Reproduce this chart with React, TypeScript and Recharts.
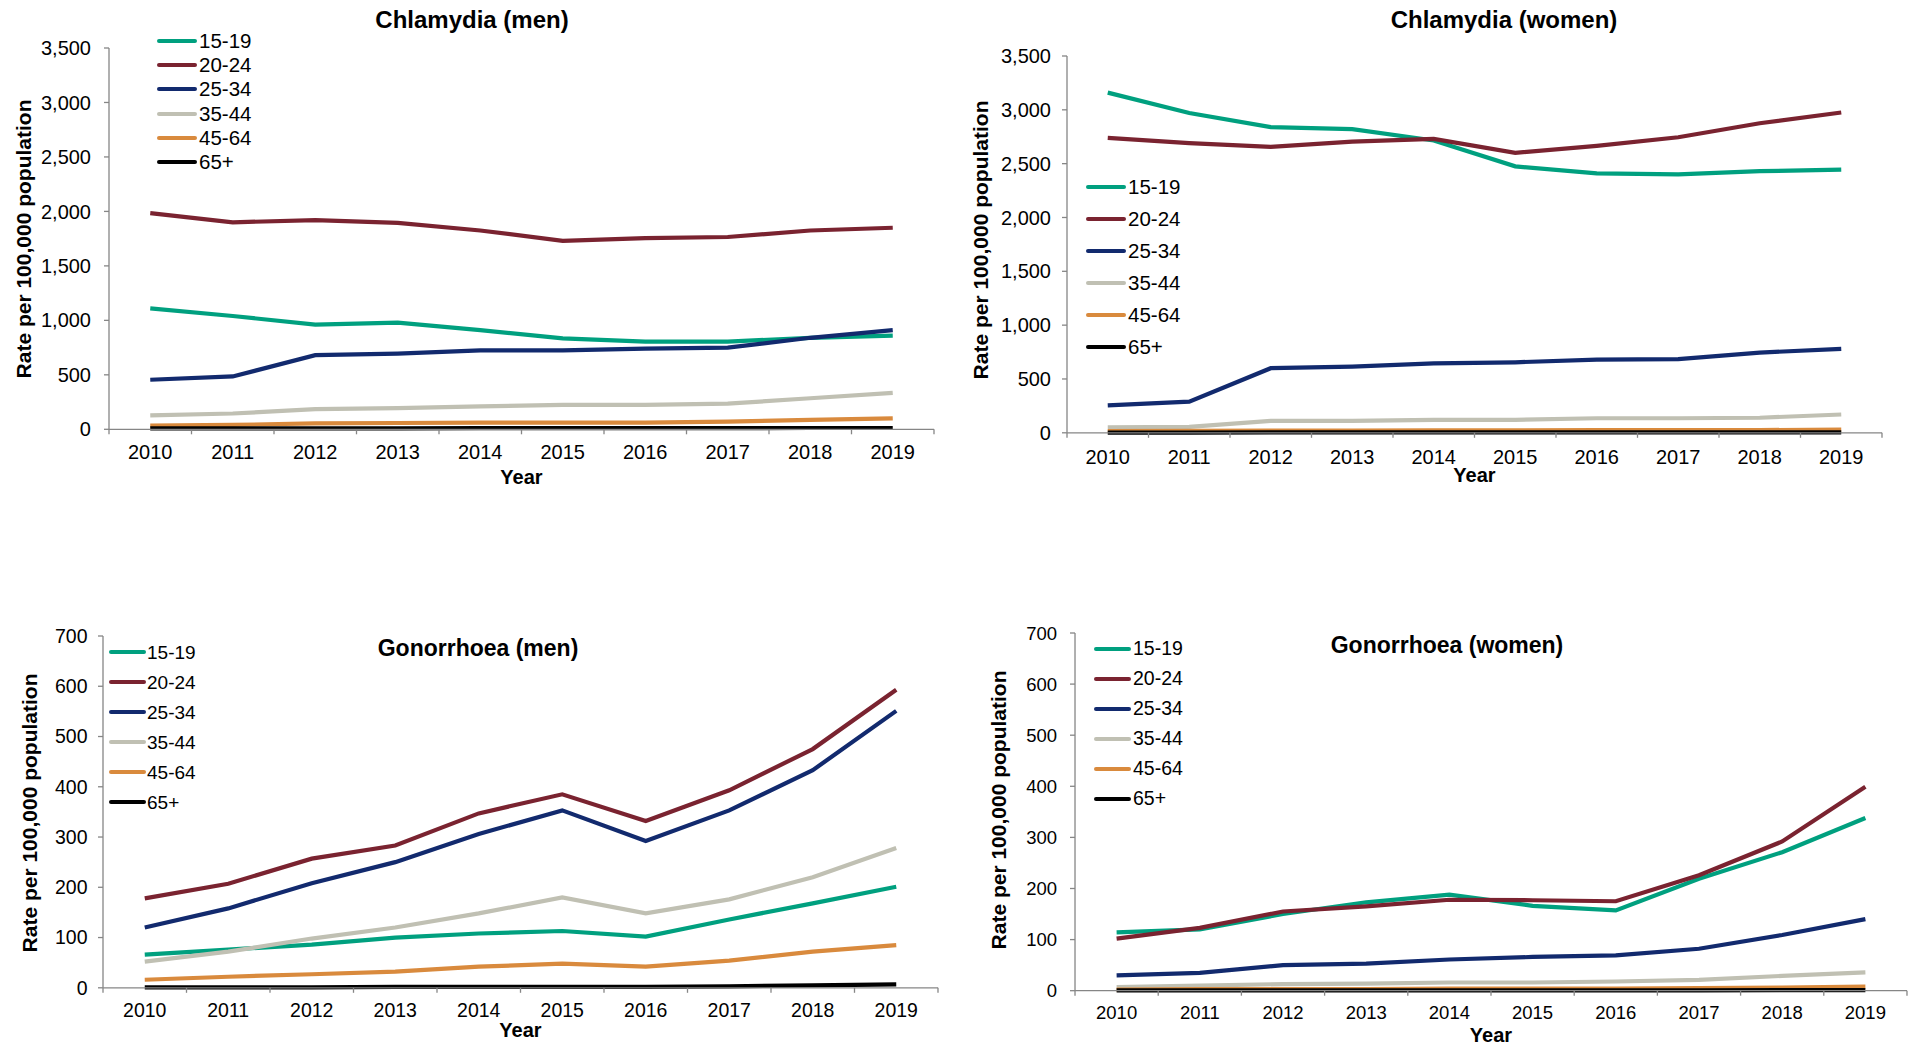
import React from 'react';
import { LineChart, Line, XAxis, YAxis } from 'recharts';

// ---------- categories / labels ----------
const years = [2010, 2011, 2012, 2013, 2014, 2015, 2016, 2017, 2018, 2019];
const ageGroups = ['15-19', '20-24', '25-34', '35-44', '45-64', '65+'];
const seriesColors = ['#00A07F', '#7A2330', '#122A6E', '#C0C0B3', '#D98A3D', '#000000'];

const chlamydiaTicks = [0, 500, 1000, 1500, 2000, 2500, 3000, 3500];
const gonorrhoeaTicks = [0, 100, 200, 300, 400, 500, 600, 700];

// ---------- Chlamydia (men) ----------
const chlMen1519 = [1110, 1040, 960, 980, 910, 835, 805, 805, 840, 860];
const chlMen2024 = [1985, 1900, 1920, 1895, 1825, 1730, 1755, 1765, 1825, 1850];
const chlMen2534 = [455, 485, 680, 695, 725, 725, 740, 750, 840, 910];
const chlMen3544 = [128, 145, 185, 195, 210, 225, 225, 235, 285, 335];
const chlMen4564 = [35, 40, 55, 58, 62, 62, 62, 70, 86, 100];
const chlMen65 = [8, 8, 9, 9, 10, 10, 10, 10, 12, 12];

// ---------- Chlamydia (women) ----------
const chlWomen1519 = [3160, 2970, 2840, 2820, 2715, 2475, 2410, 2400, 2430, 2445];
const chlWomen2024 = [2740, 2690, 2655, 2705, 2730, 2600, 2665, 2745, 2875, 2975];
const chlWomen2534 = [255, 290, 600, 615, 645, 655, 680, 685, 745, 780];
const chlWomen3544 = [50, 55, 110, 110, 120, 120, 135, 135, 140, 170];
const chlWomen4564 = [15, 17, 20, 20, 22, 22, 24, 24, 25, 30];
const chlWomen65 = [2, 2, 3, 3, 3, 3, 3, 3, 4, 4];

// ---------- Gonorrhoea (men) ----------
const gonMen1519 = [66, 76, 86, 100, 108, 113, 102, 136, 168, 201];
const gonMen2024 = [178, 207, 257, 283, 347, 385, 332, 393, 475, 593];
const gonMen2534 = [120, 158, 208, 250, 306, 353, 292, 353, 433, 551];
const gonMen3544 = [52, 72, 98, 120, 148, 180, 148, 176, 220, 278];
const gonMen4564 = [16, 22, 27, 32, 42, 48, 42, 54, 72, 85];
const gonMen65 = [1, 1, 1, 2, 2, 2, 2, 3, 5, 7];

// ---------- Gonorrhoea (women) ----------
const gonWomen1519 = [114, 120, 150, 173, 188, 166, 157, 219, 271, 338];
const gonWomen2024 = [102, 123, 155, 165, 178, 177, 175, 226, 292, 399];
const gonWomen2534 = [30, 35, 50, 53, 61, 66, 69, 82, 109, 140];
const gonWomen3544 = [7, 10, 13, 14, 16, 16, 18, 21, 29, 36];
const gonWomen4564 = [2, 3, 3, 3, 4, 4, 4, 5, 6, 8];
const gonWomen65 = [0.5, 0.5, 0.5, 0.5, 0.5, 0.5, 0.5, 0.5, 1, 1];

const FONT = '"Liberation Sans", Arial, Helvetica, sans-serif';
const AXIS_COLOR = '#868686';

const buildRows = (series: number[][]) =>
  years.map((yr, i) => {
    const row: any = { year: yr };
    series.forEach((s, k) => {
      row['s' + k] = s[i];
    });
    return row;
  });

const boundaryTicks = [...years.map((y) => y - 0.5), years[years.length - 1] + 0.5];

type Geo = { l: number; r: number; t: number; b: number };
type LegendGeo = { x1: number; x2: number; tx: number; y0: number; dy: number; fs: number };

type PanelProps = {
  title: string;
  titleX: number;
  titleY: number;
  titleFs: number;
  series: number[][];
  yTicks: number[];
  geo: Geo;
  tickFs: number;
  xLabelOffset: number;
  yTickMargin: number;
  yLabelX: number;
  yLabelY: number;
  yearY: number;
  legend: LegendGeo;
};

const PAD_L = 100;
const PAD_T = 20;
const PAD_R = 10;
const XH = 60;
const TICK = 5;

const Panel = (p: PanelProps) => {
  const { geo } = p;
  const x0 = geo.l - PAD_L;
  const y0 = geo.t - PAD_T;
  const w = geo.r - geo.l + PAD_L + PAD_R;
  const h = geo.b - geo.t + PAD_T + XH;
  const band = (geo.r - geo.l) / years.length;
  const rows = buildRows(p.series);

  const renderXTick = (props: any) => {
    const { x, y, payload } = props;
    const yr = years.find((v) => Math.abs(v - 0.5 - payload.value) < 1e-6);
    if (yr === undefined) return <g />;
    return (
      <text
        x={x + band / 2}
        y={y - TICK + p.xLabelOffset}
        textAnchor="middle"
        dominantBaseline="central"
        fontSize={p.tickFs}
        fontFamily={FONT}
        fill="#000"
      >
        {yr}
      </text>
    );
  };

  return (
    <>
      <div style={{ position: 'absolute', left: x0, top: y0 }}>
        <LineChart
          width={w}
          height={h}
          data={rows}
          margin={{ top: PAD_T, right: PAD_R, bottom: 0, left: 0 }}
          style={{ overflow: 'visible' }}
        >
          <XAxis
            dataKey="year"
            type="number"
            domain={[boundaryTicks[0], boundaryTicks[boundaryTicks.length - 1]]}
            ticks={boundaryTicks}
            interval={0}
            height={XH}
            tickSize={TICK}
            tickMargin={0}
            axisLine={{ stroke: AXIS_COLOR, strokeWidth: 1.3 }}
            tickLine={{ stroke: AXIS_COLOR, strokeWidth: 1.3 }}
            tick={renderXTick}
          />
          <YAxis
            type="number"
            domain={[0, p.yTicks[p.yTicks.length - 1]]}
            ticks={p.yTicks}
            interval={0}
            width={PAD_L}
            tickSize={TICK}
            tickMargin={p.yTickMargin}
            axisLine={{ stroke: AXIS_COLOR, strokeWidth: 1.3 }}
            tickLine={{ stroke: AXIS_COLOR, strokeWidth: 1.3 }}
            tick={{ fontSize: p.tickFs, fontFamily: FONT, fill: '#000' }}
            tickFormatter={(v: number) => v.toLocaleString('en-US')}
          />
          {ageGroups.map((g, k) => (
            <Line
              key={g}
              name={g}
              dataKey={'s' + k}
              type="linear"
              stroke={seriesColors[k]}
              strokeWidth={4.2}
              dot={false}
              activeDot={false}
              isAnimationActive={false}
            />
          ))}
        </LineChart>
      </div>
      {/* title */}
      <div
        style={{
          position: 'absolute',
          left: p.titleX,
          top: p.titleY,
          transform: 'translate(-50%, -50%)',
          fontFamily: FONT,
          fontWeight: 'bold',
          fontSize: p.titleFs,
          whiteSpace: 'nowrap',
          color: '#000',
          lineHeight: 1,
        }}
      >
        {p.title}
      </div>
      {/* y axis title */}
      <div
        style={{
          position: 'absolute',
          left: p.yLabelX,
          top: p.yLabelY,
          transform: 'translate(-50%, -50%) rotate(-90deg)',
          fontFamily: FONT,
          fontWeight: 'bold',
          fontSize: 21,
          whiteSpace: 'nowrap',
          color: '#000',
          lineHeight: 1,
        }}
      >
        Rate per 100,000 population
      </div>
      {/* x axis title */}
      <div
        style={{
          position: 'absolute',
          left: (geo.l + geo.r) / 2,
          top: p.yearY,
          transform: 'translate(-50%, -50%)',
          fontFamily: FONT,
          fontWeight: 'bold',
          fontSize: 20,
          whiteSpace: 'nowrap',
          color: '#000',
          lineHeight: 1,
        }}
      >
        Year
      </div>
      {/* legend */}
      {ageGroups.map((g, k) => {
        const cy = p.legend.y0 + k * p.legend.dy;
        return (
          <React.Fragment key={g}>
            <div
              style={{
                position: 'absolute',
                left: p.legend.x1,
                top: cy - 2,
                width: p.legend.x2 - p.legend.x1,
                height: 4,
                borderRadius: 2,
                background: seriesColors[k],
              }}
            />
            <div
              style={{
                position: 'absolute',
                left: p.legend.tx,
                top: cy,
                transform: 'translateY(-50%)',
                fontFamily: FONT,
                fontSize: p.legend.fs,
                whiteSpace: 'nowrap',
                color: '#000',
                lineHeight: 1,
              }}
            >
              {g}
            </div>
          </React.Fragment>
        );
      })}
    </>
  );
};

export default function App() {
  return (
    <div
      style={{
        position: 'absolute',
        left: 0,
        top: 0,
        width: 1912,
        height: 1046,
        overflow: 'hidden',
        background: '#fff',
      }}
    >
      <Panel
        title="Chlamydia (men)"
        titleX={472}
        titleY={20}
        titleFs={24}
        series={[chlMen1519, chlMen2024, chlMen2534, chlMen3544, chlMen4564, chlMen65]}
        yTicks={chlamydiaTicks}
        geo={{ l: 109, r: 934, t: 47.7, b: 429 }}
        tickFs={20}
        xLabelOffset={23}
        yTickMargin={13}
        yLabelX={23}
        yLabelY={238.5}
        yearY={477}
        legend={{ x1: 157, x2: 197, tx: 199, y0: 40.7, dy: 24.3, fs: 20.5 }}
      />
      <Panel
        title="Chlamydia (women)"
        titleX={1504}
        titleY={20}
        titleFs={24}
        series={[chlWomen1519, chlWomen2024, chlWomen2534, chlWomen3544, chlWomen4564, chlWomen65]}
        yTicks={chlamydiaTicks}
        geo={{ l: 1067, r: 1882, t: 55.5, b: 432.3 }}
        tickFs={20}
        xLabelOffset={24.5}
        yTickMargin={11}
        yLabelX={980}
        yLabelY={240}
        yearY={475}
        legend={{ x1: 1086, x2: 1126, tx: 1128, y0: 186.7, dy: 32, fs: 20.5 }}
      />
      <Panel
        title="Gonorrhoea (men)"
        titleX={478}
        titleY={648}
        titleFs={23}
        series={[gonMen1519, gonMen2024, gonMen2534, gonMen3544, gonMen4564, gonMen65]}
        yTicks={gonorrhoeaTicks}
        geo={{ l: 103, r: 938, t: 635.7, b: 987.5 }}
        tickFs={19.5}
        xLabelOffset={21.8}
        yTickMargin={10.5}
        yLabelX={29}
        yLabelY={813}
        yearY={1030}
        legend={{ x1: 109, x2: 146, tx: 147, y0: 652, dy: 30, fs: 19 }}
      />
      <Panel
        title="Gonorrhoea (women)"
        titleX={1447}
        titleY={645}
        titleFs={23}
        series={[gonWomen1519, gonWomen2024, gonWomen2534, gonWomen3544, gonWomen4564, gonWomen65]}
        yTicks={gonorrhoeaTicks}
        geo={{ l: 1075, r: 1907, t: 633.3, b: 991 }}
        tickFs={18.5}
        xLabelOffset={22}
        yTickMargin={13}
        yLabelX={998}
        yLabelY={810}
        yearY={1035}
        legend={{ x1: 1094, x2: 1131, tx: 1133, y0: 649.3, dy: 30, fs: 19.5 }}
      />
    </div>
  );
}
